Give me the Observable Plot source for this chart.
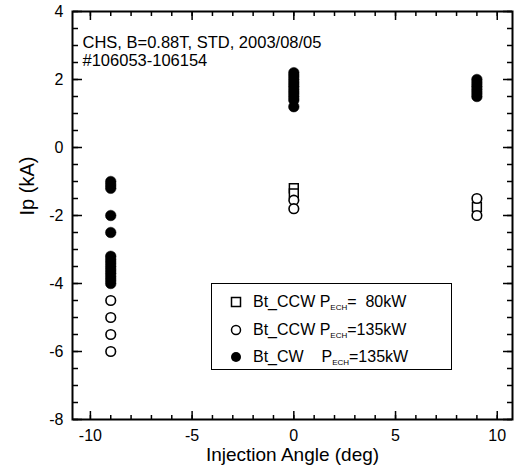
<!DOCTYPE html>
<html>
<head>
<meta charset="utf-8">
<script src="https://cdn.jsdelivr.net/npm/d3@7"></script>
<script src="https://cdn.jsdelivr.net/npm/@observablehq/plot@0.6"></script>
<style>
  html, body { margin: 0; padding: 0; background: #fff; }
  #wrap { position: relative; width: 523px; height: 470px; font-family: "Liberation Sans", Arial, sans-serif; }
  #legend { position: absolute; left: 211px; top: 283px; width: 241px; height: 87px; border: 1.5px solid #000; background: #fff; box-sizing: border-box; font-size: 16px; color: #000; }
  .row { position: absolute; left: 0; height: 20px; line-height: 20px; white-space: nowrap; }
  .row svg { position: absolute; left: 18px; top: 4px; }
  .row span.t { position: absolute; left: 41px; top: 0; }
  sub { font-size: 8px; vertical-align: -3px; }
</style>
</head>
<body>
<div id="wrap"></div>
<script>
// ---- data ----
const cwAngle = [-9,-9,-9,-9,-9,-9,-9,-9,-9,-9,-9,-9,-9,-9, 0,0,0,0,0,0,0,0,0,0, 9,9,9,9,9,9];
const cwIp    = [-1.0,-1.1,-1.2,-2.0,-2.5,-3.2,-3.3,-3.4,-3.5,-3.6,-3.7,-3.8,-3.9,-4.0,
                 1.2,1.4,1.5,1.6,1.7,1.8,1.9,2.0,2.1,2.2,
                 1.5,1.6,1.7,1.8,1.9,2.0];
const ccw135Angle = [-9,-9,-9,-9, 0,0, 9,9];
const ccw135Ip    = [-4.5,-5.0,-5.5,-6.0, -1.55,-1.8, -1.5,-2.0];
const ccw80Angle = [0,0,9];
const ccw80Ip    = [-1.2,-1.35,-1.75];

const xMajor = [-10,-5,0,5,10];
const xMinor = d3.range(-10, 11, 1);
const yMajor = [-8,-6,-4,-2,0,2,4];
const yMinor = d3.range(-8, 4.01, 0.5);

const annotation = ["CHS, B=0.88T, STD, 2003/08/05", "#106053-106154"];

const toRows = (xs, ys) => xs.map((x, i) => ({x, y: ys[i]}));
const cw = toRows(cwAngle, cwIp);
const ccw135 = toRows(ccw135Angle, ccw135Ip);
const ccw80 = toRows(ccw80Angle, ccw80Ip);

const W = 523, H = 470, ML = 72, MR = 11, MT = 11, MB = 51;
const blank = () => "";
// inward ticks: the tick direction follows `anchor`, the position follows `frameAnchor`
const inX = (ticks, size, where) => Plot.axisX(ticks, {anchor: where === "bottom" ? "top" : "bottom", frameAnchor: where, tickSize: size, tickFormat: blank, label: null, stroke: "#000", strokeWidth: 1.5});
const inY = (ticks, size, where) => Plot.axisY(ticks, {anchor: where === "left" ? "right" : "left", frameAnchor: where, tickSize: size, tickFormat: blank, label: null, stroke: "#000", strokeWidth: 1.5});

const chart = Plot.plot({
  width: W,
  height: H,
  marginLeft: ML,
  marginRight: MR,
  marginTop: MT,
  marginBottom: MB,
  style: {fontFamily: "Liberation Sans, Arial, sans-serif", background: "#fff", color: "#000"},
  x: {domain: [-10.88, 10.75]},
  y: {domain: [-8, 4]},
  marks: [
    Plot.frame({stroke: "#000", strokeWidth: 2, fill: "none"}),
    Plot.axisX(xMajor, {tickSize: 0, tickPadding: 10, fontSize: 16, label: null, tickFormat: d => String(d)}),
    Plot.axisY(yMajor, {tickSize: 0, tickPadding: 9, fontSize: 16, label: null, tickFormat: d => String(d)}),
    inX(xMinor, 5, "bottom"), inX(xMajor, 9, "bottom"),
    inX(xMinor, 5, "top"), inX(xMajor, 9, "top"),
    inY(yMinor, 5, "left"), inY(yMajor, 9, "left"),
    inY(yMinor, 5, "right"), inY(yMajor, 9, "right"),
    Plot.dot(ccw80, {x: "x", y: "y", symbol: "square", r: 5, stroke: "#000", fill: "#fff", strokeWidth: 1.5}),
    Plot.dot(ccw135, {x: "x", y: "y", symbol: "circle", r: 4.8, stroke: "#000", fill: "#fff", strokeWidth: 1.6}),
    Plot.dot(cw, {x: "x", y: "y", symbol: "circle", r: 5.3, fill: "#000", stroke: "#000", strokeWidth: 0.5}),
    Plot.text([annotation.join("\n")], {frameAnchor: "top-left", dx: 10, dy: 23, lineHeight: 1.12, fontSize: 16.5, textAnchor: "start", lineAnchor: "top", fill: "#000"}),
    Plot.text(["Injection Angle (deg)"], {frameAnchor: "bottom", dy: 41, fontSize: 19, fill: "#000"}),
    Plot.text(["Ip (kA)"], {frameAnchor: "left", dx: -45, rotate: -90, fontSize: 20, fill: "#000"})
  ]
});

const wrap = document.getElementById("wrap");
wrap.appendChild(chart);

const legendItems = [
  {sym: "square", label: "Bt_CCW P", sub: "ECH", rest: "=&nbsp; 80kW"},
  {sym: "open", label: "Bt_CCW P", sub: "ECH", rest: "=135kW"},
  {sym: "filled", label: "Bt_CW&nbsp;&nbsp;&nbsp; P", sub: "ECH", rest: "=135kW"}
];
const legend = document.createElement("div");
legend.id = "legend";
legendItems.forEach((it, i) => {
  const row = document.createElement("div");
  row.className = "row";
  row.style.top = (8 + i * 27.5) + "px";
  let s;
  if (it.sym === "square") s = '<rect x="1.5" y="1.5" width="9" height="9" fill="#fff" stroke="#000" stroke-width="1.5"/>';
  else if (it.sym === "open") s = '<circle cx="6" cy="6" r="4.5" fill="#fff" stroke="#000" stroke-width="1.5"/>';
  else s = '<circle cx="6" cy="6" r="5" fill="#000"/>';
  row.innerHTML = `<svg width="12" height="12">${s}</svg><span class="t">${it.label}<sub>${it.sub}</sub>${it.rest}</span>`;
  legend.appendChild(row);
});
wrap.appendChild(legend);
</script>
</body>
</html>
